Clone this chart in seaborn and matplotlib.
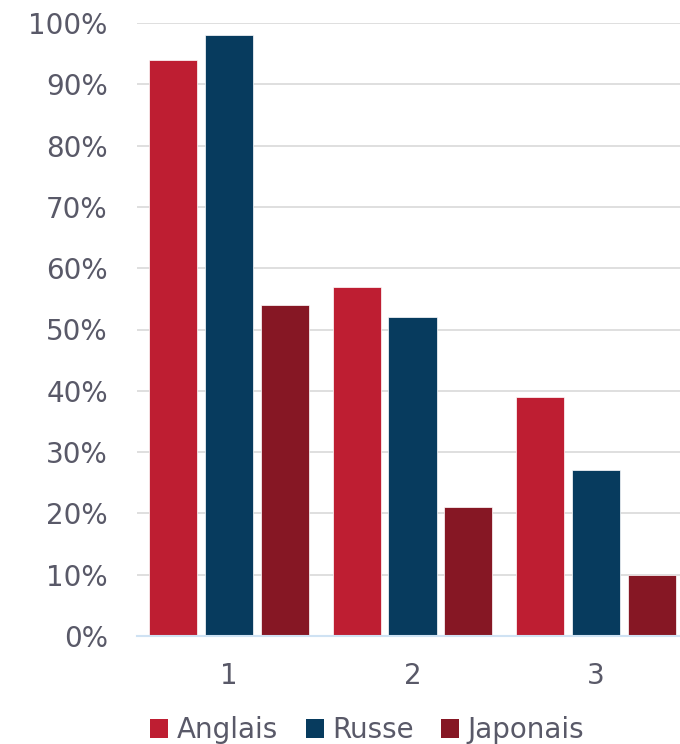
import matplotlib
matplotlib.use("Agg")
import matplotlib.pyplot as plt
import seaborn as sns
import pandas as pd
from matplotlib.ticker import FuncFormatter

categories = ["1", "2", "3"]
anglais = [94, 57, 39]
russe = [98, 52, 27]
japonais = [54, 21, 10]
series = ["Anglais", "Russe", "Japonais"]
colors = ["#BE1E32", "#073B5E", "#861724"]

rows = []
for name, vals in zip(series, [anglais, russe, japonais]):
    for c, v in zip(categories, vals):
        rows.append({"cat": c, "serie": name, "val": v})
df = pd.DataFrame(rows)

sns.set_style("white")
plt.rcParams['font.family'] = ['DejaVu Sans']
text_color = "#595968"

fig = plt.figure(figsize=(6.8, 7.44), dpi=100)
ax = fig.add_axes([137/680, (744-636)/744, (688-137)/680, (636-23)/744])

sns.barplot(data=df, x="cat", y="val", hue="serie", order=categories,
            hue_order=series, palette=colors, width=0.913, gap=0.14,
            ax=ax, legend=False, saturation=1, edgecolor="white", linewidth=0.5)

ax.set_xlim(-0.5, 2.5)
ax.set_ylim(0, 100)
ax.set_yticks(range(0, 101, 10))
ax.yaxis.set_major_formatter(FuncFormatter(lambda v, p: f"{int(v)}%"))
ax.grid(axis="y", color="#D9D9D9", linewidth=1.2)
ax.set_axisbelow(True)
for s in ["left", "right", "top"]:
    ax.spines[s].set_visible(False)
ax.spines["bottom"].set_color("#CFE2F3")
ax.spines["bottom"].set_linewidth(1.5)
ax.tick_params(axis="both", length=0, labelsize=20, labelcolor=text_color)
ax.tick_params(axis="y", pad=21)
ax.tick_params(axis="x", pad=19)
ax.set_xlabel("")
ax.set_ylabel("")

from matplotlib.patches import Patch
handles = [Patch(facecolor=c, edgecolor="none") for c in colors]
fig.legend(handles, series, loc="center", bbox_to_anchor=(0.54, 14/744),
           ncol=3, frameon=False, fontsize=20, labelcolor=text_color,
           handlelength=0.65, handleheight=0.65, handletextpad=0.3,
           columnspacing=1.0)

fig.savefig("out.png", dpi=100)
